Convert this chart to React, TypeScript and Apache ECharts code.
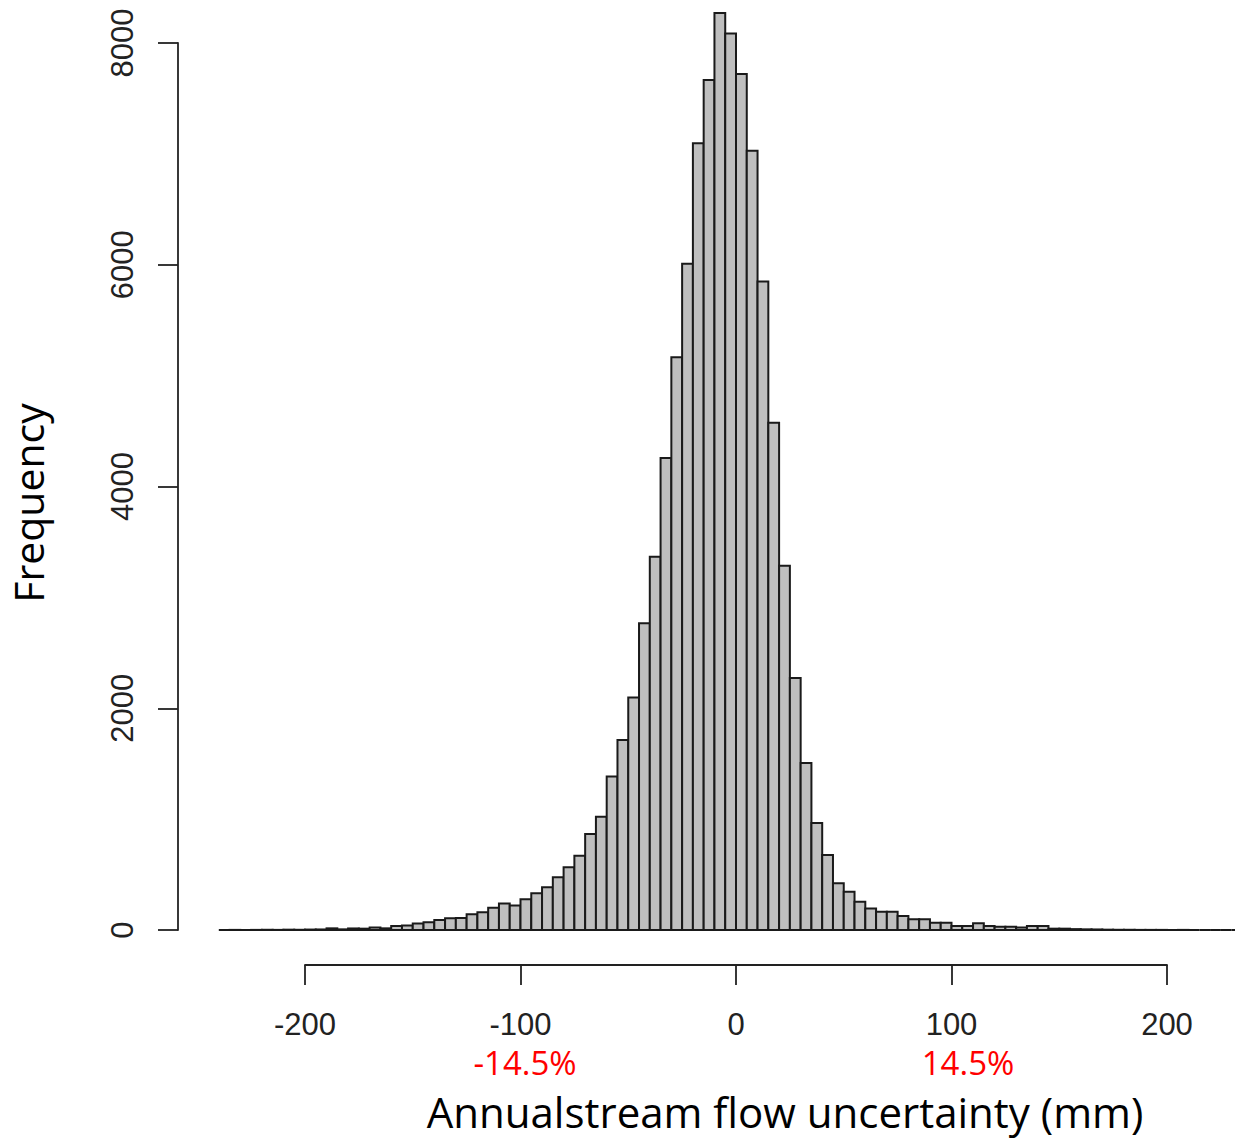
import React, { useEffect, useRef } from "react";
import * as echarts from "echarts";

// Histogram bins: lower edge of first bin and bin width (mm)
const BIN_START = -240;
const BIN_WIDTH = 5;

// Frequency per bin, from -240 to 235 mm (5 mm bins)
const counts = [
  0, 1, 0, 1, 2, 1, 3, 2, 4, 5,
  15, 6, 14, 12, 22, 15, 36, 40, 58, 70,
  90, 106, 108, 141, 160, 200, 240, 220, 278, 332,
  385, 475, 565, 670, 866, 1022, 1385, 1714, 2098, 2767,
  3366, 4258, 5166, 6010, 7096, 7666, 8270, 8085, 7720, 7028,
  5850, 4575, 3285, 2273, 1506, 965, 676, 421, 345, 255,
  195, 165, 165, 126, 96, 96, 66, 66, 36, 36,
  60, 36, 30, 30, 22, 36, 36, 12, 12, 8,
  6, 5, 3, 2, 2, 1, 1, 1, 0, 1,
  0, 0, 0, 0, 0,
];

const xTicks = [-200, -100, 0, 100, 200];
const yTicks = [0, 2000, 4000, 6000, 8000];
const pctLabels = ["-14.5%", "14.5%"];
const xTitle = "Annualstream flow uncertainty (mm)";
const yTitle = "Frequency";

export default function App() {
  const ref = useRef<HTMLDivElement>(null);

  useEffect(() => {
    document.body.style.margin = "0";
    const chart = echarts.init(ref.current!, null, { renderer: "svg" });
    const data = counts.map((c, i) => [
      BIN_START + i * BIN_WIDTH,
      BIN_START + (i + 1) * BIN_WIDTH,
      c,
    ]);

    const renderItem = (params: any, api: any) => {
      const x0 = api.value(0);
      const x1 = api.value(1);
      const v = api.value(2);
      const p0 = api.coord([x0, 0]);
      const p1 = api.coord([x1, v]);
      return {
        type: "rect",
        shape: {
          x: p0[0],
          y: p1[1],
          width: p1[0] - p0[0],
          height: p0[1] - p1[1],
        },
        style: { fill: "#bfbfbf", stroke: "#1a1a1a", lineWidth: 2 },
      };
    };

    const axisFont = "'Liberation Sans', Arial, Helvetica, sans-serif";
    const annoFont = "'Open Sans', 'Noto Sans', sans-serif";

    chart.setOption({
      animation: false,
      backgroundColor: "#ffffff",
      grid: { left: 305, right: 68, top: 43, bottom: 210, containLabel: false },
      xAxis: {
        type: "value",
        min: xTicks[0],
        max: xTicks[xTicks.length - 1],
        interval: xTicks[1] - xTicks[0],
        offset: 35,
        axisLine: { show: true, onZero: false, lineStyle: { color: "#222", width: 1.8 } },
        axisTick: { show: true, length: 20, lineStyle: { color: "#222", width: 1.8 } },
        axisLabel: {
          fontSize: 31,
          color: "#222",
          margin: 44,
          fontFamily: axisFont,
          formatter: (v: number) => String(v),
        },
        splitLine: { show: false },
      },
      yAxis: {
        type: "value",
        min: yTicks[0],
        max: yTicks[yTicks.length - 1],
        interval: yTicks[1] - yTicks[0],
        position: "left",
        offset: 127,
        axisLine: { show: true, onZero: false, lineStyle: { color: "#222", width: 1.8 } },
        axisTick: { show: true, length: 20, lineStyle: { color: "#222", width: 1.8 } },
        axisLabel: {
          fontSize: 31,
          color: "#222",
          margin: 40,
          rotate: 90,
          fontFamily: axisFont,
          formatter: (v: number) => String(v),
        },
        splitLine: { show: false },
      },
      series: [
        {
          type: "custom",
          clip: false,
          renderItem,
          encode: { x: [0, 1], y: 2 },
          data,
        },
      ],
      graphic: [
        {
          type: "text",
          x: 525,
          y: 1062,
          style: {
            text: pctLabels[0],
            fill: "#ff0000",
            font: `33px ${annoFont}`,
            align: "center",
            verticalAlign: "middle",
          },
        },
        {
          type: "text",
          x: 968,
          y: 1062,
          style: {
            text: pctLabels[1],
            fill: "#ff0000",
            font: `33px ${annoFont}`,
            align: "center",
            verticalAlign: "middle",
          },
        },
        {
          type: "text",
          x: 785,
          y: 1111,
          style: {
            text: xTitle,
            fill: "#000",
            font: `42px ${annoFont}`,
            align: "center",
            verticalAlign: "middle",
          },
        },
        {
          type: "text",
          x: 28,
          y: 503,
          rotation: Math.PI / 2,
          style: {
            text: yTitle,
            fill: "#000",
            font: `41px ${annoFont}`,
            align: "center",
            verticalAlign: "middle",
          },
        },
      ],
    });

    return () => chart.dispose();
  }, []);

  return <div ref={ref} style={{ width: 1235, height: 1140 }} />;
}
